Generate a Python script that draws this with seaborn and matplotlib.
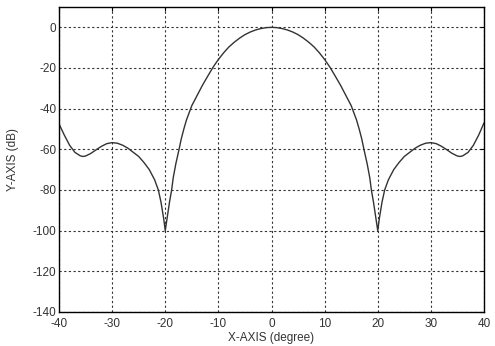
import matplotlib
matplotlib.use("Agg")
import matplotlib.pyplot as plt
import seaborn as sns
import pandas as pd

# Data (angle in degrees, level in dB)
angle = [-40, -39, -38, -37, -36, -35.5, -35, -34, -33, -32, -31, -30, -29, -28, -27, -26, -25,
         -24, -23, -22, -21.3, -20.8, -20.3, -20,
         -19.6, -19.2, -18.8, -18.5, -18, -17.4, -17, -16.5, -16, -15, -14, -13, -12, -11, -10,
         -9, -8, -7, -6, -5, -4, -3, -2, -1, 0,
         1, 2, 3, 4, 5, 6, 7, 8, 9, 10, 11, 12, 13, 14, 15, 16, 16.5, 17, 17.4, 18, 18.5,
         18.8, 19.2, 19.6,
         20, 20.3, 20.8, 21.3, 22, 23, 24, 25, 26, 27, 28, 29, 30, 31, 32, 33, 34, 35,
         35.5, 36, 37, 38, 39, 40]
level = [-47.5, -53, -58, -61.5, -63.2, -63.5, -63.3, -62, -60.2, -58.5, -57.2, -56.7, -57, -58,
         -59.5, -61.5, -63.5, -66.5, -70, -75, -80, -86, -94, -100,
         -93, -86, -80, -74, -67, -60, -55, -50, -45.5, -38.5, -33.5, -28.5, -24, -19.6, -15.8,
         -12.5, -9.6, -7.3, -5.3, -3.6, -2.3, -1.3, -0.6, -0.15, 0,
         -0.15, -0.6, -1.3, -2.3, -3.6, -5.3, -7.3, -9.6, -12.5, -15.8, -19.6, -24, -28.5,
         -33.5, -38.5, -45.5, -50, -55, -60, -67, -74, -80, -86, -93,
         -100, -94, -86, -80, -75, -70, -66.5, -63.5, -61.5, -59.5, -58, -57, -56.7, -57.2,
         -58.5, -60.2, -62, -63.3, -63.5, -63.2, -61.5, -58, -53, -47]

xticks = [-40, -30, -20, -10, 0, 10, 20, 30, 40]
yticks = [0, -20, -40, -60, -80, -100, -120, -140]

df = pd.DataFrame({"angle": angle, "level": level})

sns.set_theme(style="white")
plt.rcParams["font.family"] = ["Liberation Sans", "DejaVu Sans"]

fig = plt.figure(figsize=(4.95, 3.46), dpi=100)
ax = fig.add_axes([59/495, 1-312/346, (484-59)/495, (312-7)/346])

sns.lineplot(data=df, x="angle", y="level", ax=ax, color="#333333", linewidth=1.0,
             sort=False, estimator=None)

ax.set_xlim(-40, 40)
ax.set_ylim(-140, 10)
ax.set_xticks(xticks)
ax.set_yticks(yticks)
ax.set_xticklabels([str(t) for t in xticks], fontsize=8.5, color="#333333")
ax.set_yticklabels([str(t) for t in yticks], fontsize=8.5, color="#333333")
ax.tick_params(direction="in", top=True, right=True, length=3, width=0.8,
               color="black")
ax.tick_params(axis="x", pad=4)
ax.tick_params(axis="y", pad=2)

ax.grid(True, color="#333333", linestyle=(0, (2, 2.2)), linewidth=0.8)
for s in ax.spines.values():
    s.set_visible(True)
    s.set_color("black")
    s.set_linewidth(1.0)

ax.set_xlabel("X-AXIS (degree)", fontsize=8.5, color="#333333", labelpad=2)
ax.set_ylabel("Y-AXIS (dB)", fontsize=8.5, color="#333333", labelpad=10)

fig.savefig("out.png", dpi=100, facecolor="white")
